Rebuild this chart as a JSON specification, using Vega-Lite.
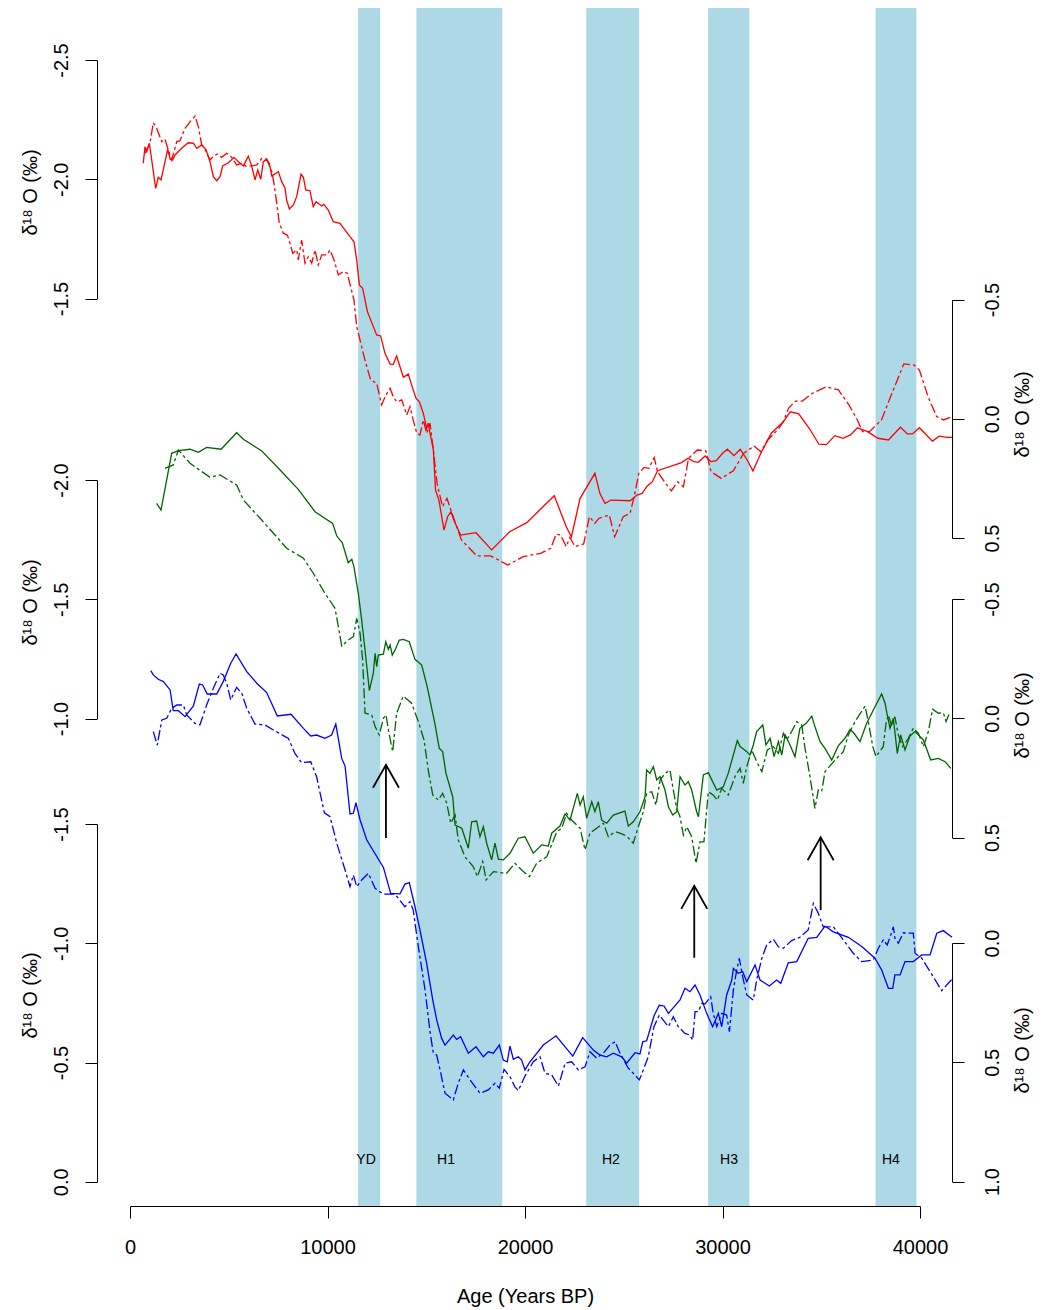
{
  "$schema": "https://vega.github.io/schema/vega-lite/v6.json",
  "width": 855,
  "height": 1198,
  "autosize": {"type": "none"},
  "padding": {"left": 97, "top": 8, "right": 91, "bottom": 104},
  "background": "white",
  "config": {
    "view": {"stroke": null},
    "font": "Liberation Sans",
    "axis": {
      "domainColor": "black", "tickColor": "black", "labelColor": "black", "titleColor": "black",
      "labelFont": "Liberation Sans", "titleFont": "Liberation Sans",
      "labelFontSize": 20, "titleFontSize": 20, "titleFontWeight": "normal",
      "tickSize": 12, "grid": false, "labelFlush": false, "labelOverlap": false,
      "domainWidth": 1, "tickWidth": 1
    }
  },
  "datasets": {
    "bands": [
      {"event": "YD", "start": 11550, "end": 12670, "label_age": 11950},
      {"event": "H1", "start": 14500, "end": 18850, "label_age": 16000},
      {"event": "H2", "start": 23100, "end": 25780, "label_age": 24350},
      {"event": "H3", "start": 29270, "end": 31360, "label_age": 30330},
      {"event": "H4", "start": 37750, "end": 39820, "label_age": 38530}
    ],
    "arrows": [
      {"age": 12960, "tail": 0.502, "head": 0.195},
      {"age": 28570, "tail": 1.004, "head": 0.703},
      {"age": 34970, "tail": 0.804, "head": 0.499}
    ],
    "red_solid": [
      {"age":670,"d18O":-2.067},{"age":760,"d18O":-2.136},{"age":850,"d18O":-2.116},{"age":980,"d18O":-2.151},{"age":1300,"d18O":-1.962},{"age":1430,"d18O":-2.008},{"age":1570,"d18O":-1.997},{"age":1910,"d18O":-2.126},{"age":2030,"d18O":-2.084},{"age":2160,"d18O":-2.081},{"age":2280,"d18O":-2.102},{"age":2450,"d18O":-2.116},{"age":2700,"d18O":-2.136},{"age":2950,"d18O":-2.153},{"age":3210,"d18O":-2.151},{"age":3380,"d18O":-2.130},{"age":3630,"d18O":-2.144},{"age":3850,"d18O":-2.123},{"age":4050,"d18O":-2.074},{"age":4220,"d18O":-2.011},{"age":4390,"d18O":-1.994},{"age":4560,"d18O":-2.011},{"age":4690,"d18O":-2.056},{"age":4980,"d18O":-2.069},{"age":5270,"d18O":-2.092},{"age":5480,"d18O":-2.074},{"age":5740,"d18O":-2.056},{"age":5990,"d18O":-2.097},{"age":6160,"d18O":-2.056},{"age":6330,"d18O":-1.997},{"age":6470,"d18O":-2.039},{"age":6620,"d18O":-2.000},{"age":6750,"d18O":-2.074},{"age":6920,"d18O":-2.084},{"age":7050,"d18O":-2.067},{"age":7180,"d18O":-2.014},{"age":7430,"d18O":-2.027},{"age":7510,"d18O":-2.032},{"age":7680,"d18O":-1.990},{"age":7850,"d18O":-1.962},{"age":7930,"d18O":-1.913},{"age":8070,"d18O":-1.875},{"age":8270,"d18O":-1.892},{"age":8440,"d18O":-1.927},{"age":8660,"d18O":-2.022},{"age":8780,"d18O":-2.008},{"age":8900,"d18O":-1.955},{"age":9110,"d18O":-1.952},{"age":9280,"d18O":-1.885},{"age":9420,"d18O":-1.906},{"age":9710,"d18O":-1.888},{"age":9820,"d18O":-1.895},{"age":10040,"d18O":-1.871},{"age":10290,"d18O":-1.822},{"age":10630,"d18O":-1.815},{"age":10890,"d18O":-1.787},{"age":11140,"d18O":-1.759},{"age":11340,"d18O":-1.738},{"age":11480,"d18O":-1.661},{"age":11610,"d18O":-1.557},{"age":11780,"d18O":-1.543},{"age":12020,"d18O":-1.445},{"age":12490,"d18O":-1.347},{"age":12690,"d18O":-1.343},{"age":12910,"d18O":-1.270},{"age":13170,"d18O":-1.225},{"age":13330,"d18O":-1.224},{"age":13500,"d18O":-1.259},{"age":13670,"d18O":-1.214},{"age":13840,"d18O":-1.170},{"age":14090,"d18O":-1.183},{"age":14260,"d18O":-1.137},{"age":14480,"d18O":-1.082},{"age":14650,"d18O":-1.067},{"age":14850,"d18O":-1.019},{"age":15020,"d18O":-0.956},{"age":15100,"d18O":-0.977},{"age":15190,"d18O":-0.935},{"age":15360,"d18O":-0.865},{"age":15470,"d18O":-0.697},{"age":15640,"d18O":-0.655},{"age":15900,"d18O":-0.529},{"age":16080,"d18O":-0.585},{"age":16250,"d18O":-0.606},{"age":16430,"d18O":-0.564},{"age":16740,"d18O":-0.508},{"age":17520,"d18O":-0.518},{"age":18310,"d18O":-0.446},{"age":19220,"d18O":-0.522},{"age":20090,"d18O":-0.560},{"age":21480,"d18O":-0.673},{"age":21830,"d18O":-0.599},{"age":22090,"d18O":-0.543},{"age":22350,"d18O":-0.501},{"age":22790,"d18O":-0.662},{"age":23540,"d18O":-0.767},{"age":23790,"d18O":-0.683},{"age":24050,"d18O":-0.641},{"age":24360,"d18O":-0.655},{"age":25320,"d18O":-0.652},{"age":25670,"d18O":-0.676},{"age":25930,"d18O":-0.683},{"age":26190,"d18O":-0.714},{"age":26450,"d18O":-0.732},{"age":26710,"d18O":-0.778},{"age":27930,"d18O":-0.812},{"age":28250,"d18O":-0.830},{"age":28550,"d18O":-0.816},{"age":28770,"d18O":-0.813},{"age":29120,"d18O":-0.840},{"age":29420,"d18O":-0.816},{"age":29680,"d18O":-0.820},{"age":30030,"d18O":-0.853},{"age":30250,"d18O":-0.868},{"age":30580,"d18O":-0.841},{"age":30900,"d18O":-0.868},{"age":31250,"d18O":-0.823},{"age":31540,"d18O":-0.777},{"age":31940,"d18O":-0.851},{"age":32470,"d18O":-0.935},{"age":33080,"d18O":-0.983},{"age":33430,"d18O":-1.025},{"age":33860,"d18O":-1.016},{"age":34390,"d18O":-0.956},{"age":34880,"d18O":-0.889},{"age":35260,"d18O":-0.887},{"age":35690,"d18O":-0.925},{"age":36100,"d18O":-0.914},{"age":36480,"d18O":-0.928},{"age":36830,"d18O":-0.958},{"age":37350,"d18O":-0.942},{"age":37870,"d18O":-0.914},{"age":38400,"d18O":-0.907},{"age":39010,"d18O":-0.960},{"age":39360,"d18O":-0.932},{"age":39620,"d18O":-0.932},{"age":39970,"d18O":-0.958},{"age":40630,"d18O":-0.902},{"age":40980,"d18O":-0.923},{"age":41360,"d18O":-0.918},{"age":41620,"d18O":-0.918}
    ],
    "red_dashed": [
      {"age":760,"d18O":-1.113},{"age":1010,"d18O":-1.155},{"age":1180,"d18O":-1.241},{"age":1350,"d18O":-1.218},{"age":1610,"d18O":-1.162},{"age":1770,"d18O":-1.172},{"age":1940,"d18O":-1.127},{"age":2110,"d18O":-1.085},{"age":2370,"d18O":-1.162},{"age":2530,"d18O":-1.166},{"age":2790,"d18O":-1.218},{"age":3040,"d18O":-1.245},{"age":3290,"d18O":-1.269},{"age":3460,"d18O":-1.225},{"age":3630,"d18O":-1.148},{"age":3800,"d18O":-1.130},{"age":4050,"d18O":-1.085},{"age":4220,"d18O":-1.099},{"age":4420,"d18O":-1.110},{"age":4640,"d18O":-1.096},{"age":4900,"d18O":-1.113},{"age":5150,"d18O":-1.096},{"age":5400,"d18O":-1.064},{"age":5660,"d18O":-1.071},{"age":5910,"d18O":-1.057},{"age":6420,"d18O":-1.064},{"age":6670,"d18O":-1.092},{"age":6920,"d18O":-1.088},{"age":7180,"d18O":-1.036},{"age":7290,"d18O":-0.987},{"age":7430,"d18O":-0.903},{"age":7560,"d18O":-0.820},{"age":7760,"d18O":-0.778},{"age":7970,"d18O":-0.770},{"age":8100,"d18O":-0.736},{"age":8240,"d18O":-0.694},{"age":8440,"d18O":-0.708},{"age":8520,"d18O":-0.666},{"age":8690,"d18O":-0.749},{"age":8860,"d18O":-0.652},{"age":9030,"d18O":-0.679},{"age":9200,"d18O":-0.652},{"age":9370,"d18O":-0.708},{"age":9530,"d18O":-0.645},{"age":9710,"d18O":-0.687},{"age":9960,"d18O":-0.687},{"age":10130,"d18O":-0.708},{"age":10330,"d18O":-0.666},{"age":10550,"d18O":-0.603},{"age":10800,"d18O":-0.617},{"age":11000,"d18O":-0.610},{"age":11190,"d18O":-0.547},{"age":11340,"d18O":-0.498},{"age":11480,"d18O":-0.386},{"age":11650,"d18O":-0.330},{"age":11810,"d18O":-0.274},{"age":11990,"d18O":-0.218},{"age":12190,"d18O":-0.162},{"age":12490,"d18O":-0.149},{"age":12740,"d18O":-0.058},{"age":12960,"d18O":-0.100},{"age":13170,"d18O":-0.128},{"age":13330,"d18O":-0.092},{"age":13500,"d18O":-0.071},{"age":13760,"d18O":-0.079},{"age":14010,"d18O":-0.016},{"age":14180,"d18O":-0.051},{"age":14340,"d18O":0.005},{"age":14520,"d18O":0.061},{"age":14680,"d18O":0.068},{"age":14850,"d18O":0.005},{"age":15020,"d18O":0.061},{"age":15190,"d18O":0.019},{"age":15360,"d18O":0.131},{"age":15550,"d18O":0.271},{"age":15820,"d18O":0.369},{"age":16050,"d18O":0.334},{"age":16250,"d18O":0.383},{"age":16600,"d18O":0.466},{"age":16780,"d18O":0.508},{"age":17560,"d18O":0.575},{"age":18260,"d18O":0.575},{"age":19130,"d18O":0.613},{"age":19910,"d18O":0.578},{"age":20790,"d18O":0.564},{"age":21310,"d18O":0.543},{"age":21570,"d18O":0.484},{"age":21800,"d18O":0.487},{"age":22090,"d18O":0.536},{"age":22270,"d18O":0.497},{"age":22530,"d18O":0.536},{"age":22970,"d18O":0.525},{"age":23260,"d18O":0.411},{"age":23540,"d18O":0.438},{"age":23750,"d18O":0.417},{"age":24270,"d18O":0.404},{"age":24540,"d18O":0.495},{"age":24970,"d18O":0.411},{"age":25320,"d18O":0.396},{"age":25530,"d18O":0.327},{"age":25760,"d18O":0.229},{"age":26020,"d18O":0.204},{"age":26280,"d18O":0.208},{"age":26540,"d18O":0.162},{"age":26710,"d18O":0.222},{"age":27060,"d18O":0.264},{"age":27410,"d18O":0.302},{"age":27730,"d18O":0.264},{"age":28020,"d18O":0.285},{"age":28280,"d18O":0.166},{"age":28720,"d18O":0.131},{"age":29160,"d18O":0.135},{"age":29420,"d18O":0.222},{"age":29940,"d18O":0.250},{"age":30550,"d18O":0.218},{"age":31070,"d18O":0.145},{"age":31600,"d18O":0.114},{"age":31940,"d18O":0.138},{"age":32290,"d18O":0.089},{"age":32820,"d18O":0.044},{"age":33080,"d18O":0.012},{"age":33340,"d18O":-0.044},{"age":33690,"d18O":-0.074},{"age":34040,"d18O":-0.074},{"age":34560,"d18O":-0.107},{"age":35260,"d18O":-0.134},{"age":35870,"d18O":-0.121},{"age":36400,"d18O":-0.058},{"age":36830,"d18O":0.005},{"age":37090,"d18O":0.054},{"age":37440,"d18O":0.054},{"age":38050,"d18O":0.005},{"age":38580,"d18O":-0.107},{"age":39180,"d18O":-0.230},{"age":39710,"d18O":-0.225},{"age":39970,"d18O":-0.204},{"age":40410,"d18O":-0.092},{"age":40840,"d18O":-0.009},{"age":41190,"d18O":0.005},{"age":41620,"d18O":-0.009}
    ],
    "green_solid": [
      {"age":1350,"d18O":-1.902},{"age":1570,"d18O":-1.874},{"age":2110,"d18O":-2.112},{"age":2450,"d18O":-2.123},{"age":3040,"d18O":-2.129},{"age":3460,"d18O":-2.116},{"age":3880,"d18O":-2.137},{"age":4610,"d18O":-2.129},{"age":5400,"d18O":-2.198},{"age":5740,"d18O":-2.171},{"age":6670,"d18O":-2.122},{"age":7600,"d18O":-2.042},{"age":8520,"d18O":-1.961},{"age":9370,"d18O":-1.867},{"age":10260,"d18O":-1.818},{"age":10470,"d18O":-1.765},{"age":10750,"d18O":-1.737},{"age":11050,"d18O":-1.653},{"age":11230,"d18O":-1.668},{"age":11340,"d18O":-1.636},{"age":11560,"d18O":-1.525},{"age":11730,"d18O":-1.413},{"age":11900,"d18O":-1.287},{"age":12120,"d18O":-1.117},{"age":12320,"d18O":-1.190},{"age":12410,"d18O":-1.273},{"age":12490,"d18O":-1.217},{"age":12570,"d18O":-1.266},{"age":12830,"d18O":-1.270},{"age":12950,"d18O":-1.322},{"age":13080,"d18O":-1.290},{"age":13170,"d18O":-1.308},{"age":13280,"d18O":-1.266},{"age":13420,"d18O":-1.287},{"age":13640,"d18O":-1.329},{"age":13840,"d18O":-1.332},{"age":14140,"d18O":-1.322},{"age":14430,"d18O":-1.248},{"age":14770,"d18O":-1.224},{"age":15050,"d18O":-1.133},{"age":15440,"d18O":-0.977},{"age":15660,"d18O":-0.875},{"age":15830,"d18O":-0.861},{"age":16000,"d18O":-0.770},{"age":16340,"d18O":-0.672},{"age":16460,"d18O":-0.553},{"age":16800,"d18O":-0.540},{"age":17130,"d18O":-0.456},{"age":17300,"d18O":-0.567},{"age":17550,"d18O":-0.570},{"age":17720,"d18O":-0.504},{"age":17890,"d18O":-0.546},{"age":18060,"d18O":-0.477},{"age":18310,"d18O":-0.407},{"age":18480,"d18O":-0.477},{"age":18650,"d18O":-0.410},{"age":18900,"d18O":-0.407},{"age":19240,"d18O":-0.435},{"age":19660,"d18O":-0.498},{"age":20000,"d18O":-0.504},{"age":20420,"d18O":-0.435},{"age":20850,"d18O":-0.470},{"age":21180,"d18O":-0.465},{"age":21350,"d18O":-0.519},{"age":21770,"d18O":-0.549},{"age":22030,"d18O":-0.600},{"age":22280,"d18O":-0.574},{"age":22650,"d18O":-0.686},{"age":22790,"d18O":-0.637},{"age":22950,"d18O":-0.672},{"age":23120,"d18O":-0.582},{"age":23380,"d18O":-0.651},{"age":23540,"d18O":-0.609},{"age":23710,"d18O":-0.651},{"age":23880,"d18O":-0.574},{"age":24140,"d18O":-0.561},{"age":24470,"d18O":-0.595},{"age":25060,"d18O":-0.612},{"age":25230,"d18O":-0.549},{"age":25480,"d18O":-0.567},{"age":25820,"d18O":-0.609},{"age":26080,"d18O":-0.672},{"age":26160,"d18O":-0.784},{"age":26330,"d18O":-0.770},{"age":26500,"d18O":-0.798},{"age":26670,"d18O":-0.742},{"age":26840,"d18O":-0.756},{"age":27090,"d18O":-0.700},{"age":27260,"d18O":-0.630},{"age":27480,"d18O":-0.595},{"age":27680,"d18O":-0.609},{"age":27850,"d18O":-0.756},{"age":28100,"d18O":-0.721},{"age":28270,"d18O":-0.735},{"age":28440,"d18O":-0.700},{"age":28690,"d18O":-0.609},{"age":28780,"d18O":-0.588},{"age":29030,"d18O":-0.763},{"age":29280,"d18O":-0.773},{"age":29710,"d18O":-0.700},{"age":30040,"d18O":-0.714},{"age":30290,"d18O":-0.770},{"age":30750,"d18O":-0.907},{"age":30890,"d18O":-0.882},{"age":31230,"d18O":-0.861},{"age":31390,"d18O":-0.847},{"age":31560,"d18O":-0.889},{"age":31730,"d18O":-0.945},{"age":32040,"d18O":-0.973},{"age":32200,"d18O":-0.889},{"age":32410,"d18O":-0.917},{"age":32610,"d18O":-0.840},{"age":32830,"d18O":-0.903},{"age":33000,"d18O":-0.847},{"age":33170,"d18O":-0.931},{"age":33380,"d18O":-0.896},{"age":33670,"d18O":-0.840},{"age":33920,"d18O":-0.959},{"age":34260,"d18O":-0.982},{"age":34520,"d18O":-1.010},{"age":34680,"d18O":-0.966},{"age":34940,"d18O":-0.903},{"age":35190,"d18O":-0.875},{"age":35530,"d18O":-0.826},{"age":35860,"d18O":-0.885},{"age":36200,"d18O":-0.917},{"age":36460,"d18O":-0.955},{"age":36660,"d18O":-0.938},{"age":36960,"d18O":-0.903},{"age":37300,"d18O":-0.980},{"age":37720,"d18O":-1.049},{"age":38060,"d18O":-1.103},{"age":38230,"d18O":-1.064},{"age":38340,"d18O":-1.015},{"age":38480,"d18O":-0.959},{"age":38650,"d18O":-1.001},{"age":38850,"d18O":-0.854},{"age":39020,"d18O":-0.931},{"age":39240,"d18O":-0.868},{"age":39490,"d18O":-0.927},{"age":39750,"d18O":-0.945},{"age":40170,"d18O":-0.910},{"age":40540,"d18O":-0.826},{"age":40930,"d18O":-0.833},{"age":41270,"d18O":-0.819},{"age":41560,"d18O":-0.791}
    ],
    "green_dashed": [
      {"age":1770,"d18O":-1.048},{"age":2190,"d18O":-1.062},{"age":2450,"d18O":-1.125},{"age":3040,"d18O":-1.069},{"age":4050,"d18O":-1.010},{"age":4560,"d18O":-1.020},{"age":5400,"d18O":-0.978},{"age":5740,"d18O":-0.915},{"age":6670,"d18O":-0.831},{"age":7930,"d18O":-0.713},{"age":8780,"d18O":-0.671},{"age":9280,"d18O":-0.608},{"age":9870,"d18O":-0.524},{"age":10380,"d18O":-0.461},{"age":10550,"d18O":-0.384},{"age":10720,"d18O":-0.303},{"age":11050,"d18O":-0.328},{"age":11310,"d18O":-0.342},{"age":11480,"d18O":-0.419},{"age":11650,"d18O":-0.356},{"age":11780,"d18O":-0.244},{"age":11900,"d18O":-0.021},{"age":12240,"d18O":-0.014},{"age":12410,"d18O":0.035},{"age":12620,"d18O":0.070},{"age":12830,"d18O":0.000},{"age":12960,"d18O":-0.014},{"age":13130,"d18O":0.070},{"age":13300,"d18O":0.140},{"age":13500,"d18O":-0.021},{"age":13840,"d18O":-0.093},{"age":14260,"d18O":-0.063},{"age":14600,"d18O":0.014},{"age":14890,"d18O":0.091},{"age":15100,"d18O":0.217},{"age":15330,"d18O":0.322},{"age":15610,"d18O":0.343},{"age":15830,"d18O":0.315},{"age":16040,"d18O":0.357},{"age":16240,"d18O":0.440},{"age":16460,"d18O":0.406},{"age":16620,"d18O":0.510},{"age":16960,"d18O":0.581},{"age":17380,"d18O":0.622},{"age":17590,"d18O":0.664},{"age":17860,"d18O":0.601},{"age":18030,"d18O":0.678},{"age":18400,"d18O":0.643},{"age":18820,"d18O":0.648},{"age":19070,"d18O":0.650},{"age":19490,"d18O":0.608},{"age":19830,"d18O":0.636},{"age":20220,"d18O":0.664},{"age":20590,"d18O":0.608},{"age":21100,"d18O":0.581},{"age":21610,"d18O":0.476},{"age":21860,"d18O":0.461},{"age":22110,"d18O":0.399},{"age":22360,"d18O":0.427},{"age":22790,"d18O":0.461},{"age":23040,"d18O":0.552},{"age":23290,"d18O":0.482},{"age":23630,"d18O":0.461},{"age":23970,"d18O":0.440},{"age":24220,"d18O":0.497},{"age":24560,"d18O":0.476},{"age":24810,"d18O":0.482},{"age":25150,"d18O":0.494},{"age":25480,"d18O":0.524},{"age":25740,"d18O":0.455},{"age":25990,"d18O":0.392},{"age":26160,"d18O":0.315},{"age":26420,"d18O":0.308},{"age":26630,"d18O":0.364},{"age":26840,"d18O":0.259},{"age":27090,"d18O":0.231},{"age":27340,"d18O":0.217},{"age":27510,"d18O":0.301},{"age":27680,"d18O":0.378},{"age":27850,"d18O":0.413},{"age":28020,"d18O":0.490},{"age":28190,"d18O":0.455},{"age":28440,"d18O":0.497},{"age":28660,"d18O":0.608},{"age":28860,"d18O":0.518},{"age":29060,"d18O":0.518},{"age":29280,"d18O":0.308},{"age":29530,"d18O":0.322},{"age":29740,"d18O":0.343},{"age":29960,"d18O":0.294},{"age":30290,"d18O":0.322},{"age":30630,"d18O":0.245},{"age":30890,"d18O":0.210},{"age":31050,"d18O":0.273},{"age":31230,"d18O":0.203},{"age":31480,"d18O":0.133},{"age":31730,"d18O":0.182},{"age":31990,"d18O":0.224},{"age":32270,"d18O":0.133},{"age":32570,"d18O":0.119},{"age":32830,"d18O":0.147},{"age":33080,"d18O":0.063},{"age":33250,"d18O":0.091},{"age":33500,"d18O":0.056},{"age":33760,"d18O":0.014},{"age":34010,"d18O":0.028},{"age":34180,"d18O":0.126},{"age":34430,"d18O":0.245},{"age":34680,"d18O":0.378},{"age":34850,"d18O":0.301},{"age":35020,"d18O":0.308},{"age":35190,"d18O":0.224},{"age":35440,"d18O":0.200},{"age":35780,"d18O":0.168},{"age":36120,"d18O":0.140},{"age":36370,"d18O":0.070},{"age":36710,"d18O":0.014},{"age":37220,"d18O":-0.051},{"age":37380,"d18O":0.014},{"age":37610,"d18O":0.119},{"age":37770,"d18O":0.161},{"age":38140,"d18O":0.119},{"age":38280,"d18O":0.021},{"age":38400,"d18O":-0.014},{"age":38570,"d18O":0.035},{"age":38730,"d18O":-0.006},{"age":38900,"d18O":0.070},{"age":39120,"d18O":0.119},{"age":39410,"d18O":0.084},{"age":39660,"d18O":0.042},{"age":39920,"d18O":0.063},{"age":40170,"d18O":0.119},{"age":40420,"d18O":0.056},{"age":40640,"d18O":-0.038},{"age":40930,"d18O":-0.021},{"age":41180,"d18O":-0.023},{"age":41320,"d18O":0.014},{"age":41520,"d18O":-0.027}
    ],
    "blue_solid": [
      {"age":1050,"d18O":-2.143},{"age":1180,"d18O":-2.125},{"age":1430,"d18O":-2.107},{"age":1690,"d18O":-2.097},{"age":2030,"d18O":-2.062},{"age":2190,"d18O":-1.975},{"age":2450,"d18O":-1.975},{"age":2790,"d18O":-1.950},{"age":3210,"d18O":-1.995},{"age":3510,"d18O":-2.087},{"age":3680,"d18O":-2.083},{"age":3910,"d18O":-2.045},{"age":4390,"d18O":-2.045},{"age":4720,"d18O":-2.097},{"age":5100,"d18O":-2.174},{"age":5370,"d18O":-2.213},{"age":5910,"d18O":-2.139},{"age":6420,"d18O":-2.090},{"age":6920,"d18O":-2.051},{"age":7460,"d18O":-1.953},{"age":8150,"d18O":-1.960},{"age":8780,"d18O":-1.901},{"age":9150,"d18O":-1.869},{"age":9450,"d18O":-1.873},{"age":9870,"d18O":-1.859},{"age":10210,"d18O":-1.873},{"age":10420,"d18O":-1.919},{"age":10720,"d18O":-1.775},{"age":10890,"d18O":-1.743},{"age":11140,"d18O":-1.542},{"age":11310,"d18O":-1.545},{"age":11440,"d18O":-1.589},{"age":11650,"d18O":-1.517},{"age":11990,"d18O":-1.433},{"age":12830,"d18O":-1.318},{"age":13200,"d18O":-1.209},{"age":13670,"d18O":-1.207},{"age":13920,"d18O":-1.248},{"age":14140,"d18O":-1.254},{"age":14430,"d18O":-1.153},{"age":14680,"d18O":-1.056},{"age":15020,"d18O":-0.916},{"age":15330,"d18O":-0.762},{"age":15530,"d18O":-0.678},{"age":15780,"d18O":-0.601},{"age":15950,"d18O":-0.573},{"age":16370,"d18O":-0.615},{"age":16540,"d18O":-0.597},{"age":16740,"d18O":-0.608},{"age":17130,"d18O":-0.539},{"age":17520,"d18O":-0.566},{"age":17890,"d18O":-0.524},{"age":18140,"d18O":-0.545},{"age":18400,"d18O":-0.539},{"age":18700,"d18O":-0.573},{"age":18900,"d18O":-0.510},{"age":19100,"d18O":-0.503},{"age":19240,"d18O":-0.569},{"age":19410,"d18O":-0.513},{"age":19660,"d18O":-0.524},{"age":19830,"d18O":-0.510},{"age":20000,"d18O":-0.469},{"age":20250,"d18O":-0.503},{"age":20930,"d18O":-0.573},{"age":21570,"d18O":-0.612},{"age":22420,"d18O":-0.527},{"age":22920,"d18O":-0.604},{"age":23460,"d18O":-0.552},{"age":23800,"d18O":-0.531},{"age":24140,"d18O":-0.524},{"age":24470,"d18O":-0.539},{"age":24900,"d18O":-0.524},{"age":25150,"d18O":-0.497},{"age":25570,"d18O":-0.541},{"age":25820,"d18O":-0.536},{"age":25960,"d18O":-0.587},{"age":26160,"d18O":-0.591},{"age":26530,"d18O":-0.695},{"age":26800,"d18O":-0.740},{"age":27040,"d18O":-0.737},{"age":27260,"d18O":-0.706},{"age":27480,"d18O":-0.727},{"age":27850,"d18O":-0.762},{"age":28100,"d18O":-0.811},{"age":28350,"d18O":-0.797},{"age":28610,"d18O":-0.825},{"age":28860,"d18O":-0.783},{"age":29200,"d18O":-0.706},{"age":29500,"d18O":-0.650},{"age":29790,"d18O":-0.706},{"age":29960,"d18O":-0.650},{"age":30210,"d18O":-0.783},{"age":30470,"d18O":-0.846},{"age":30550,"d18O":-0.895},{"age":30800,"d18O":-0.874},{"age":31020,"d18O":-0.881},{"age":31230,"d18O":-0.839},{"age":31650,"d18O":-0.909},{"age":31900,"d18O":-0.846},{"age":32370,"d18O":-0.821},{"age":32740,"d18O":-0.846},{"age":32950,"d18O":-0.832},{"age":33330,"d18O":-0.918},{"age":33760,"d18O":-0.923},{"age":34340,"d18O":-1.021},{"age":34770,"d18O":-1.025},{"age":35190,"d18O":-1.072},{"age":35610,"d18O":-1.048},{"age":36370,"d18O":-1.025},{"age":37050,"d18O":-0.986},{"age":37720,"d18O":-0.937},{"age":38060,"d18O":-0.888},{"age":38400,"d18O":-0.811},{"age":38620,"d18O":-0.811},{"age":38730,"d18O":-0.867},{"age":38990,"d18O":-0.867},{"age":39240,"d18O":-0.923},{"age":39660,"d18O":-0.923},{"age":40090,"d18O":-0.951},{"age":40510,"d18O":-0.951},{"age":40850,"d18O":-1.042},{"age":41180,"d18O":-1.053},{"age":41620,"d18O":-1.025}
    ],
    "blue_dashed": [
      {"age":1180,"d18O":-0.886},{"age":1380,"d18O":-0.830},{"age":1610,"d18O":-0.935},{"age":1860,"d18O":-0.942},{"age":2110,"d18O":-0.984},{"age":2370,"d18O":-0.998},{"age":2700,"d18O":-0.998},{"age":2870,"d18O":-0.956},{"age":3290,"d18O":-0.921},{"age":3540,"d18O":-0.914},{"age":3880,"d18O":-0.998},{"age":4220,"d18O":-1.068},{"age":4560,"d18O":-1.131},{"age":4720,"d18O":-1.124},{"age":4900,"d18O":-1.089},{"age":5100,"d18O":-1.019},{"age":5400,"d18O":-1.072},{"age":5660,"d18O":-1.047},{"age":5910,"d18O":-0.984},{"age":6330,"d18O":-0.918},{"age":6840,"d18O":-0.914},{"age":7260,"d18O":-0.893},{"age":8020,"d18O":-0.858},{"age":8350,"d18O":-0.795},{"age":8690,"d18O":-0.756},{"age":9150,"d18O":-0.760},{"age":9450,"d18O":-0.697},{"age":9840,"d18O":-0.546},{"age":10130,"d18O":-0.530},{"age":10470,"d18O":-0.418},{"age":10890,"d18O":-0.306},{"age":11140,"d18O":-0.236},{"age":11310,"d18O":-0.285},{"age":11480,"d18O":-0.236},{"age":11730,"d18O":-0.264},{"age":12070,"d18O":-0.292},{"age":12410,"d18O":-0.229},{"age":12830,"d18O":-0.205},{"age":13420,"d18O":-0.205},{"age":13920,"d18O":-0.152},{"age":14180,"d18O":-0.173},{"age":14340,"d18O":-0.138},{"age":14600,"d18O":0.016},{"age":14940,"d18O":0.197},{"age":15190,"d18O":0.372},{"age":15360,"d18O":0.462},{"age":15530,"d18O":0.470},{"age":15700,"d18O":0.532},{"age":15950,"d18O":0.630},{"age":16370,"d18O":0.658},{"age":16620,"d18O":0.588},{"age":16880,"d18O":0.532},{"age":17220,"d18O":0.574},{"age":17720,"d18O":0.630},{"age":18140,"d18O":0.616},{"age":18480,"d18O":0.588},{"age":18700,"d18O":0.609},{"age":18940,"d18O":0.530},{"age":19240,"d18O":0.561},{"age":19490,"d18O":0.603},{"age":19660,"d18O":0.619},{"age":20000,"d18O":0.558},{"age":20420,"d18O":0.498},{"age":20760,"d18O":0.477},{"age":21010,"d18O":0.546},{"age":21350,"d18O":0.553},{"age":21690,"d18O":0.600},{"age":22030,"d18O":0.504},{"age":22360,"d18O":0.498},{"age":22700,"d18O":0.532},{"age":23040,"d18O":0.519},{"age":23290,"d18O":0.456},{"age":23630,"d18O":0.483},{"age":23970,"d18O":0.462},{"age":24300,"d18O":0.428},{"age":24560,"d18O":0.414},{"age":24810,"d18O":0.462},{"age":25230,"d18O":0.525},{"age":25480,"d18O":0.546},{"age":25790,"d18O":0.574},{"age":25990,"d18O":0.532},{"age":26240,"d18O":0.477},{"age":26530,"d18O":0.351},{"age":26800,"d18O":0.302},{"age":27000,"d18O":0.323},{"age":27260,"d18O":0.351},{"age":27510,"d18O":0.309},{"age":27760,"d18O":0.351},{"age":28100,"d18O":0.379},{"age":28350,"d18O":0.386},{"age":28490,"d18O":0.407},{"age":28610,"d18O":0.288},{"age":28780,"d18O":0.288},{"age":28950,"d18O":0.253},{"age":29110,"d18O":0.256},{"age":29400,"d18O":0.225},{"age":29530,"d18O":0.295},{"age":29710,"d18O":0.351},{"age":29960,"d18O":0.295},{"age":30210,"d18O":0.302},{"age":30350,"d18O":0.372},{"age":30550,"d18O":0.197},{"age":30720,"d18O":0.113},{"age":30850,"d18O":0.064},{"age":31020,"d18O":0.141},{"age":31230,"d18O":0.218},{"age":31560,"d18O":0.239},{"age":31730,"d18O":0.155},{"age":31990,"d18O":0.064},{"age":32240,"d18O":0.008},{"age":32570,"d18O":-0.016},{"age":32830,"d18O":0.016},{"age":33080,"d18O":0.022},{"age":33500,"d18O":-0.010},{"age":33920,"d18O":-0.024},{"age":34340,"d18O":-0.055},{"age":34600,"d18O":-0.166},{"age":34850,"d18O":-0.125},{"age":35100,"d18O":-0.068},{"age":35610,"d18O":-0.068},{"age":36120,"d18O":-0.013},{"age":36620,"d18O":0.043},{"age":37050,"d18O":0.078},{"age":37640,"d18O":0.071},{"age":37890,"d18O":0.022},{"age":38140,"d18O":-0.013},{"age":38340,"d18O":0.008},{"age":38520,"d18O":-0.034},{"age":38650,"d18O":-0.068},{"age":38730,"d18O":-0.020},{"age":38900,"d18O":0.001},{"age":39160,"d18O":-0.043},{"age":39360,"d18O":-0.041},{"age":39660,"d18O":-0.041},{"age":39750,"d18O":0.043},{"age":40090,"d18O":0.064},{"age":40670,"d18O":0.141},{"age":41100,"d18O":0.200},{"age":41430,"d18O":0.169},{"age":41620,"d18O":0.152}
    ]
  },
  "layer": [
    {
      "data": {"name": "bands"},
      "mark": {"type": "rect", "color": "#ADD8E6", "opacity": 1},
      "encoding": {
        "x": {"field": "start", "type": "quantitative", "scale": {"domain": [0, 40000], "range": [33, 823], "nice": false, "zero": false},
          "axis": {"title": "Age (Years BP)", "values": [0, 10000, 20000, 30000, 40000], "format": "d", "labelAngle": 0, "labelAlign": "center", "labelBaseline": "alphabetic", "labelPadding": 35, "titleBaseline": "alphabetic", "titleY": 96}},
        "x2": {"field": "end"}
      }
    },
    {
      "data": {"name": "bands"},
      "mark": {"type": "text", "fontSize": 14, "align": "center", "baseline": "middle", "color": "black", "font": "Liberation Sans"},
      "encoding": {
        "x": {"field": "label_age", "type": "quantitative",
          "axis": {"title": "Age (Years BP)", "values": [0, 10000, 20000, 30000, 40000], "format": "d", "labelAngle": 0, "labelAlign": "center", "labelBaseline": "alphabetic", "labelPadding": 35, "titleBaseline": "alphabetic", "titleY": 96}},
        "y": {"datum": 0.908, "type": "quantitative", "scale": {"domain": [0, 1], "range": [935, 1173.5], "nice": false, "zero": false}, "axis": null},
        "text": {"field": "event"}
      }
    },
    {
      "data": {"name": "red_solid"},
      "mark": {"type": "line", "color": "#FF0000", "strokeWidth": 1.3},
      "encoding": {
        "x": {"field": "age", "type": "quantitative",
          "axis": {"title": "Age (Years BP)", "values": [0, 10000, 20000, 30000, 40000], "format": "d", "labelAngle": 0, "labelAlign": "center", "labelBaseline": "alphabetic", "labelPadding": 35, "titleBaseline": "alphabetic", "titleY": 96}},
        "y": {"field": "d18O", "type": "quantitative",
          "scale": {"domain": [-2.5, -1.5], "range": [52, 290.5], "nice": false, "zero": false},
          "axis": {"orient": "left", "values": [-2.5, -2.0, -1.5], "labelExpr": "replace(format(datum.value, '.1f'), '\u2212', '-')",
            "labelAngle": -90, "labelAlign": "center", "labelBaseline": "alphabetic", "labelPadding": 17.7,
            "title": "δ¹⁸ O (‰)", "titleAngle": -90, "titleBaseline": "middle", "titleX": -67, "titleY": 184}}
      }
    },
    {
      "data": {"name": "red_dashed"},
      "mark": {"type": "line", "color": "#FF0000", "strokeWidth": 1.3, "strokeDash": [10, 3, 3, 3]},
      "encoding": {
        "x": {"field": "age", "type": "quantitative",
          "axis": {"title": "Age (Years BP)", "values": [0, 10000, 20000, 30000, 40000], "format": "d", "labelAngle": 0, "labelAlign": "center", "labelBaseline": "alphabetic", "labelPadding": 35, "titleBaseline": "alphabetic", "titleY": 96}},
        "y": {"field": "d18O", "type": "quantitative",
          "scale": {"domain": [-0.5, 0.5], "range": [291.5, 530], "nice": false, "zero": false},
          "axis": {"orient": "right", "values": [-0.5, 0.0, 0.5], "labelExpr": "replace(format(datum.value, '.1f'), '\u2212', '-')",
            "labelAngle": -90, "labelAlign": "center", "labelBaseline": "alphabetic", "labelPadding": 34,
            "title": "δ¹⁸ O (‰)", "titleAngle": -90, "titleBaseline": "middle", "titleX": 70, "titleY": 406}}
      }
    },
    {
      "data": {"name": "green_solid"},
      "mark": {"type": "line", "color": "#006400", "strokeWidth": 1.3},
      "encoding": {
        "x": {"field": "age", "type": "quantitative",
          "axis": {"title": "Age (Years BP)", "values": [0, 10000, 20000, 30000, 40000], "format": "d", "labelAngle": 0, "labelAlign": "center", "labelBaseline": "alphabetic", "labelPadding": 35, "titleBaseline": "alphabetic", "titleY": 96}},
        "y": {"field": "d18O", "type": "quantitative",
          "scale": {"domain": [-2.0, -1.0], "range": [472, 710.5], "nice": false, "zero": false},
          "axis": {"orient": "left", "values": [-2.0, -1.5, -1.0], "labelExpr": "replace(format(datum.value, '.1f'), '\u2212', '-')",
            "labelAngle": -90, "labelAlign": "center", "labelBaseline": "alphabetic", "labelPadding": 17.7,
            "title": "δ¹⁸ O (‰)", "titleAngle": -90, "titleBaseline": "middle", "titleX": -67, "titleY": 594}}
      }
    },
    {
      "data": {"name": "green_dashed"},
      "mark": {"type": "line", "color": "#006400", "strokeWidth": 1.3, "strokeDash": [10, 3, 3, 3]},
      "encoding": {
        "x": {"field": "age", "type": "quantitative",
          "axis": {"title": "Age (Years BP)", "values": [0, 10000, 20000, 30000, 40000], "format": "d", "labelAngle": 0, "labelAlign": "center", "labelBaseline": "alphabetic", "labelPadding": 35, "titleBaseline": "alphabetic", "titleY": 96}},
        "y": {"field": "d18O", "type": "quantitative",
          "scale": {"domain": [-0.5, 0.5], "range": [591, 829.5], "nice": false, "zero": false},
          "axis": {"orient": "right", "values": [-0.5, 0.0, 0.5], "labelExpr": "replace(format(datum.value, '.1f'), '\u2212', '-')",
            "labelAngle": -90, "labelAlign": "center", "labelBaseline": "alphabetic", "labelPadding": 34,
            "title": "δ¹⁸ O (‰)", "titleAngle": -90, "titleBaseline": "middle", "titleX": 70, "titleY": 707}}
      }
    },
    {
      "data": {"name": "blue_solid"},
      "mark": {"type": "line", "color": "#0000FF", "strokeWidth": 1.3},
      "encoding": {
        "x": {"field": "age", "type": "quantitative",
          "axis": {"title": "Age (Years BP)", "values": [0, 10000, 20000, 30000, 40000], "format": "d", "labelAngle": 0, "labelAlign": "center", "labelBaseline": "alphabetic", "labelPadding": 35, "titleBaseline": "alphabetic", "titleY": 96}},
        "y": {"field": "d18O", "type": "quantitative",
          "scale": {"domain": [-1.5, 0.0], "range": [816, 1173.75], "nice": false, "zero": false},
          "axis": {"orient": "left", "values": [-1.5, -1.0, -0.5, 0.0], "labelExpr": "replace(format(datum.value, '.1f'), '\u2212', '-')",
            "labelAngle": -90, "labelAlign": "center", "labelBaseline": "alphabetic", "labelPadding": 17.7,
            "title": "δ¹⁸ O (‰)", "titleAngle": -90, "titleBaseline": "middle", "titleX": -67, "titleY": 987}}
      }
    },
    {
      "data": {"name": "blue_dashed"},
      "mark": {"type": "line", "color": "#0000FF", "strokeWidth": 1.3, "strokeDash": [10, 3, 3, 3]},
      "encoding": {
        "x": {"field": "age", "type": "quantitative",
          "axis": {"title": "Age (Years BP)", "values": [0, 10000, 20000, 30000, 40000], "format": "d", "labelAngle": 0, "labelAlign": "center", "labelBaseline": "alphabetic", "labelPadding": 35, "titleBaseline": "alphabetic", "titleY": 96}},
        "y": {"field": "d18O", "type": "quantitative",
          "scale": {"domain": [0.0, 1.0], "range": [935, 1173.5], "nice": false, "zero": false},
          "axis": {"orient": "right", "values": [0.0, 0.5, 1.0], "labelExpr": "replace(format(datum.value, '.1f'), '\u2212', '-')",
            "labelAngle": -90, "labelAlign": "center", "labelBaseline": "alphabetic", "labelPadding": 34,
            "title": "δ¹⁸ O (‰)", "titleAngle": -90, "titleBaseline": "middle", "titleX": 70, "titleY": 1042}}
      }
    },
    {
      "data": {"name": "arrows"},
      "mark": {"type": "rule", "color": "black", "strokeWidth": 1.8},
      "encoding": {
        "x": {"field": "age", "type": "quantitative",
          "axis": {"title": "Age (Years BP)", "values": [0, 10000, 20000, 30000, 40000], "format": "d", "labelAngle": 0, "labelAlign": "center", "labelBaseline": "alphabetic", "labelPadding": 35, "titleBaseline": "alphabetic", "titleY": 96}},
        "y": {"field": "tail", "type": "quantitative", "scale": {"domain": [-0.5, 0.5], "range": [591, 829.5], "nice": false, "zero": false}, "axis": null},
        "y2": {"field": "head"}
      }
    },
    {
      "data": {"name": "arrows"},
      "mark": {"type": "point", "shape": "M-1,1.77L0,0L1,1.77", "size": 676, "filled": false, "stroke": "black", "strokeWidth": 1.8, "opacity": 1, "strokeJoin": "miter"},
      "encoding": {
        "x": {"field": "age", "type": "quantitative",
          "axis": {"title": "Age (Years BP)", "values": [0, 10000, 20000, 30000, 40000], "format": "d", "labelAngle": 0, "labelAlign": "center", "labelBaseline": "alphabetic", "labelPadding": 35, "titleBaseline": "alphabetic", "titleY": 96}},
        "y": {"field": "head", "type": "quantitative", "scale": {"domain": [-0.5, 0.5], "range": [591, 829.5], "nice": false, "zero": false}, "axis": null}
      }
    }
  ],
  "resolve": {"scale": {"y": "independent"}, "axis": {"y": "independent"}}
}
